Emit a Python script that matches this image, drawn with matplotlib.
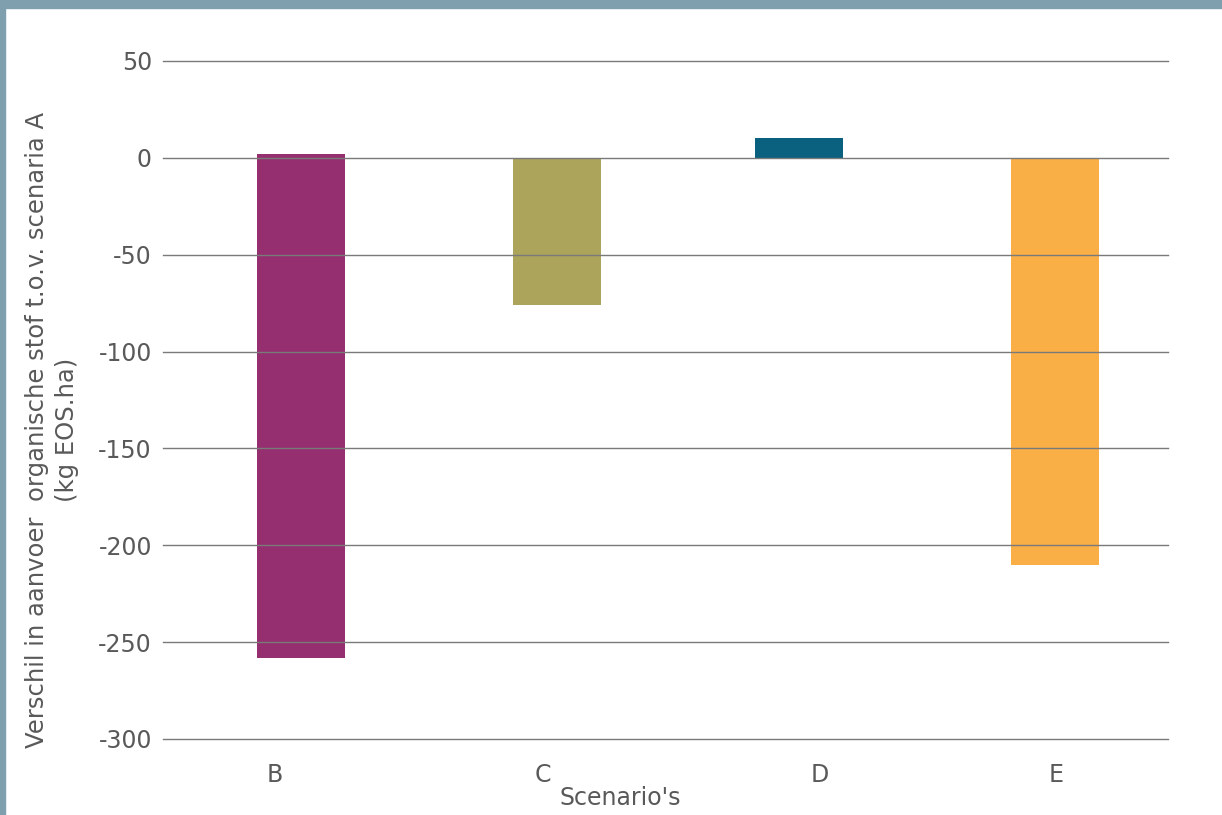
import matplotlib
matplotlib.use("Agg")
import matplotlib.pyplot as plt
from matplotlib.patches import Rectangle

# data
scenarios = ["B", "C", "D", "E"]
bar_start = [2, 0, 0, 0]
bar_end = [-258, -76, 10, -210]
bar_colors = ["#952F6F", "#ACA45A", "#09607F", "#FAAE46"]
yticks = [50, 0, -50, -100, -150, -200, -250, -300]

# layout (the original puts bars and labels a bit off-centre)
bar_shift = [0.05, 0.07, 0.03, 0.05]
label_shift = [-0.055, 0.01, 0.115, 0.055]

txt = "#595959"
fs = 17
plt.rcParams["font.family"] = "DejaVu Sans"

fig = plt.figure(figsize=(12.22, 8.15), dpi=100)
ax = fig.add_axes([163/1222, 1-739/815, (1168-163)/1222, (739-61)/815])

xs = range(len(scenarios))
for i in xs:
    ax.bar(i + bar_shift[i], bar_end[i] - bar_start[i], bottom=bar_start[i],
           width=0.35, color=bar_colors[i], zorder=1)

ax.set_ylim(-300, 50)
ax.set_xlim(-0.5, 3.5)
ax.set_yticks(yticks)
ax.set_yticklabels([str(v) for v in yticks])
ax.set_xticks([i + label_shift[i] for i in xs])
ax.set_xticklabels(scenarios)
ax.yaxis.grid(True, color="#7a7a7a", linewidth=1.0, zorder=2)
for gl in ax.get_ygridlines():
    gl.set_clip_on(False)   # keep the -300 and 50 lines whole
ax.set_axisbelow(False)
for s in ax.spines.values():
    s.set_visible(False)
ax.tick_params(axis="both", length=0, labelsize=fs, colors=txt)
ax.tick_params(axis="x", pad=17)
ax.tick_params(axis="y", pad=8)

ax.set_xlabel("Scenario's", fontsize=fs, color=txt)
ax.xaxis.set_label_coords((620-163)/1005, -(786-739)/678)

fig.text(52/1222, 1-430/815,
         "Verschil in aanvoer  organische stof t.o.v. scenaria A\n(kg EOS.ha)",
         rotation=90, ha="center", va="center", multialignment="center",
         linespacing=1.35, fontsize=17.5, color=txt)

# frame bands at top and left
border = "#7F9FAE"
fig.patches.append(Rectangle((0, 1-8/815), 1, 8/815, transform=fig.transFigure,
                             color=border, zorder=0))
fig.patches.append(Rectangle((0, 0), 5/1222, 1, transform=fig.transFigure,
                             color=border, zorder=0))

fig.savefig("out.png", dpi=100)
